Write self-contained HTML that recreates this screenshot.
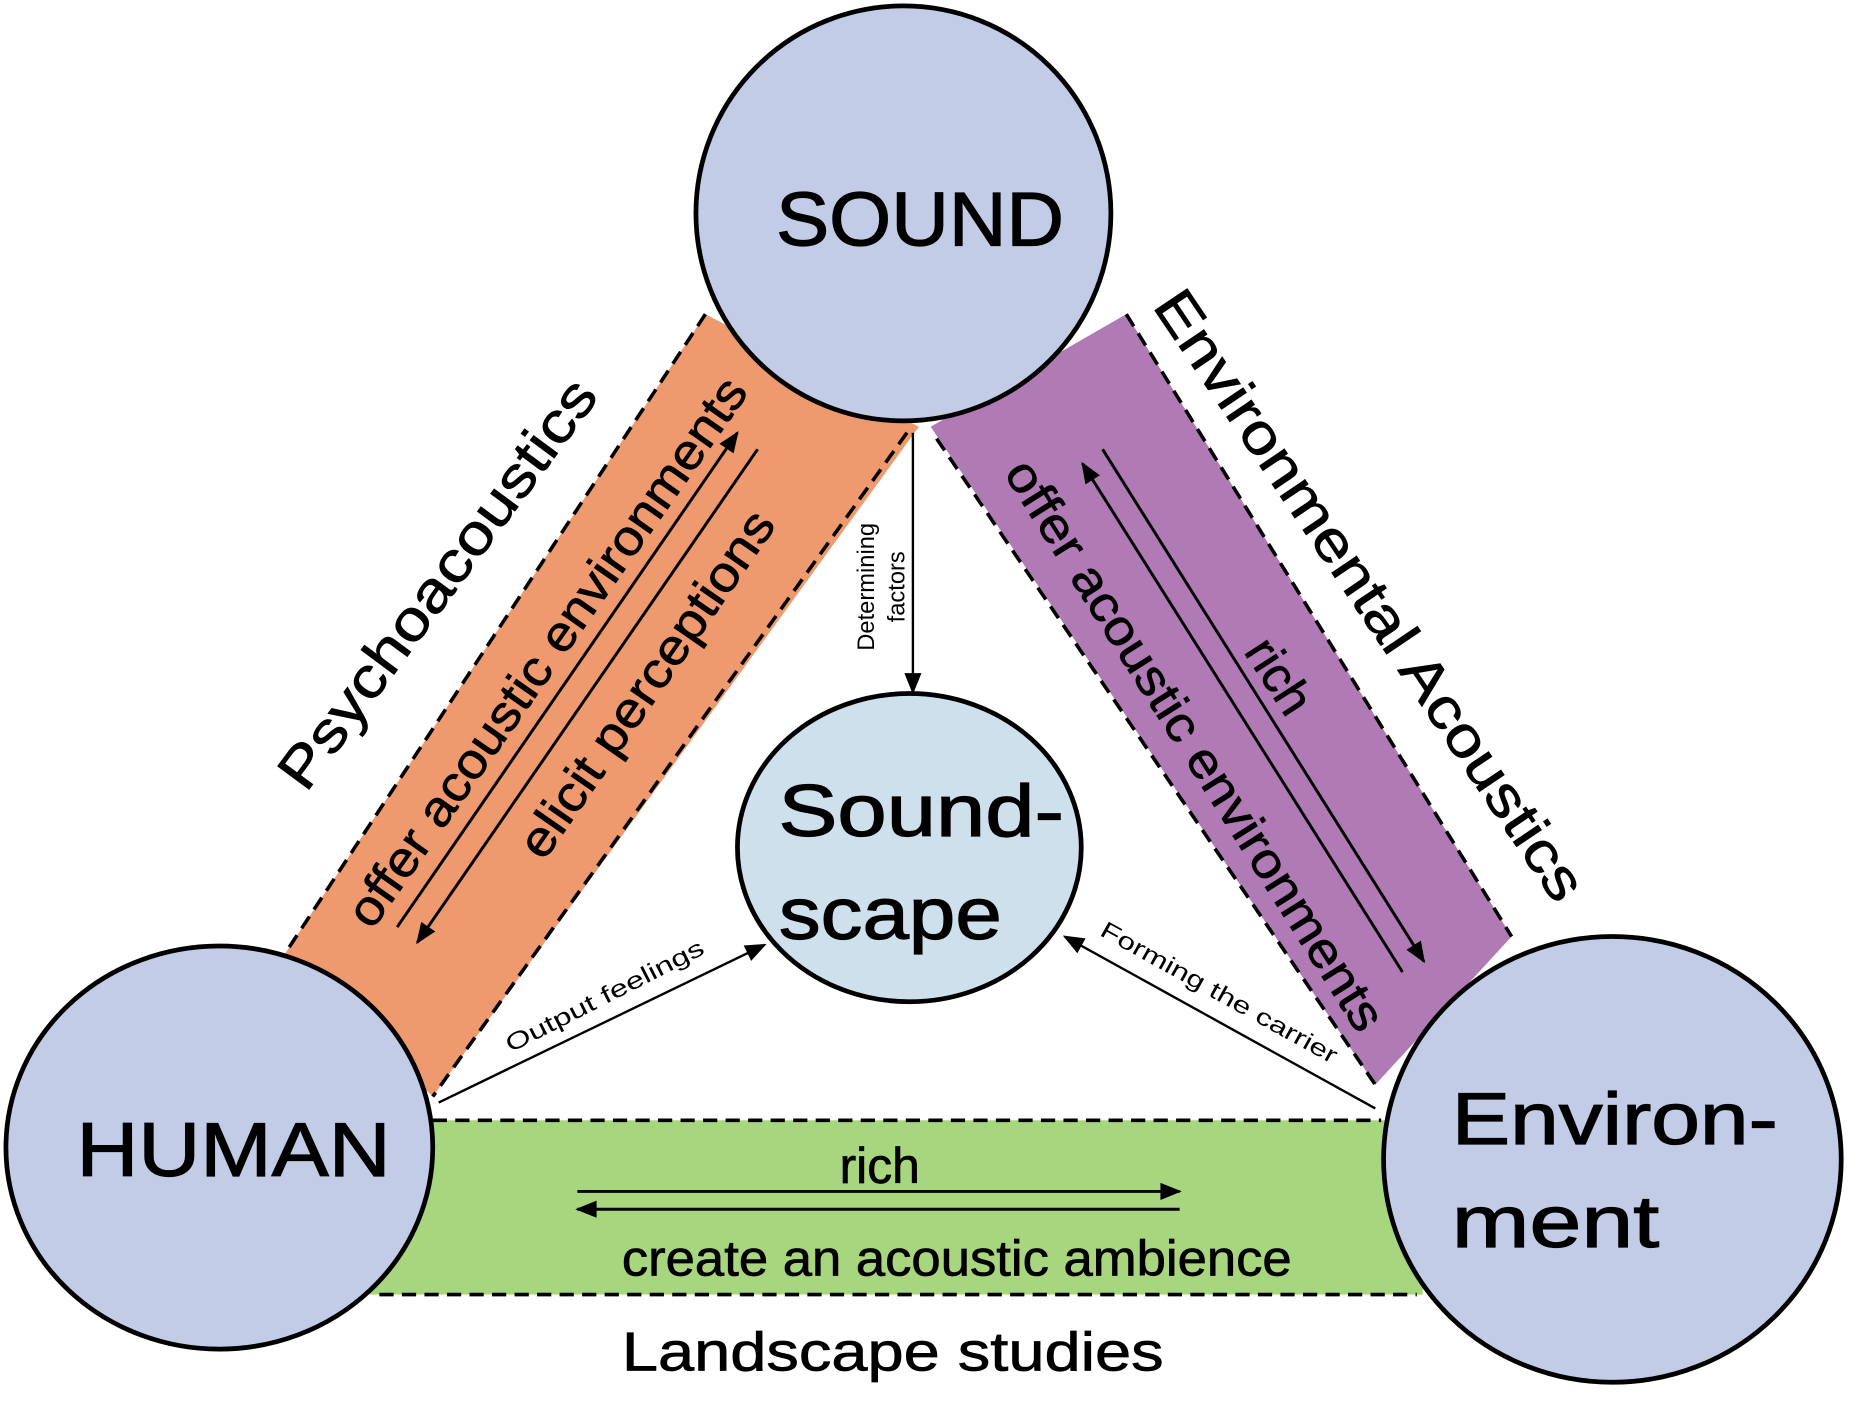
<!DOCTYPE html>
<html><head><meta charset="utf-8"><style>html,body{margin:0;padding:0;background:#fff}svg{display:block}</style></head>
<body>
<svg width="1859" height="1406" viewBox="0 0 1568 1186" preserveAspectRatio="none" xmlns="http://www.w3.org/2000/svg" font-family="Liberation Sans, sans-serif">
<defs>
<marker id="b" viewBox="0 0 10 10" refX="9" refY="5" markerWidth="20" markerHeight="18" markerUnits="userSpaceOnUse" orient="auto"><path d="M0,1L10,5L0,9z" fill="#000"/></marker>
</defs>
<!-- bands -->
<polygon points="595,265 775,360 365,925 240,805" fill="#ef9a6e"/>
<line x1="595" y1="265" x2="240" y2="805" stroke="#000" stroke-width="3" stroke-dasharray="12,7"/>
<line x1="765" y1="365" x2="365" y2="925" stroke="#000" stroke-width="3" stroke-dasharray="12,7"/>
<polygon points="785,360 950,265 1275,790 1160,915" fill="#b07ab5"/>
<line x1="950" y1="265" x2="1275" y2="790" stroke="#000" stroke-width="3" stroke-dasharray="12,7"/>
<line x1="790" y1="370" x2="1160" y2="915" stroke="#000" stroke-width="3" stroke-dasharray="12,7"/>
<rect x="300" y="945" width="900" height="147" fill="#a8d67e"/>
<line x1="365" y1="945" x2="1165" y2="945" stroke="#000" stroke-width="3" stroke-dasharray="12,7"/>
<line x1="320" y1="1092" x2="1195" y2="1092" stroke="#000" stroke-width="3" stroke-dasharray="12,7"/>
<!-- circles -->
<ellipse cx="762" cy="180" rx="175" ry="175" fill="#c2cce6" stroke="#000" stroke-width="4"/>
<ellipse cx="767" cy="715" rx="145" ry="130" fill="#cde0ec" stroke="#000" stroke-width="4"/>
<ellipse cx="185" cy="968" rx="180" ry="170" fill="#c2cce6" stroke="#000" stroke-width="4"/>
<ellipse cx="1360" cy="978" rx="193" ry="188" fill="#c2cce6" stroke="#000" stroke-width="4"/>
<!-- arrows in bands -->
<line x1="335" y1="782" x2="622" y2="365" stroke="#000" stroke-width="2.5" marker-end="url(#b)"/>
<line x1="639" y1="379" x2="352" y2="795" stroke="#000" stroke-width="2.5" marker-end="url(#b)"/>
<line x1="1183" y1="820" x2="913" y2="391" stroke="#000" stroke-width="2.5" marker-end="url(#b)"/>
<line x1="930" y1="379" x2="1201" y2="811" stroke="#000" stroke-width="2.5" marker-end="url(#b)"/>
<line x1="487" y1="1005" x2="995" y2="1005" stroke="#000" stroke-width="2.5" marker-end="url(#b)"/>
<line x1="995" y1="1020" x2="487" y2="1020" stroke="#000" stroke-width="2.5" marker-end="url(#b)"/>
<!-- center connectors -->
<line x1="770" y1="365" x2="770" y2="584" stroke="#000" stroke-width="2" marker-end="url(#b)"/>
<line x1="370" y1="930" x2="645" y2="797" stroke="#000" stroke-width="2" marker-end="url(#b)"/>
<line x1="1160" y1="935" x2="898" y2="790" stroke="#000" stroke-width="2" marker-end="url(#b)"/>
<!-- node labels -->
<g font-size="64" text-anchor="middle" fill="#000" stroke="#000" stroke-width="1">
<text x="776" y="207" textLength="243" lengthAdjust="spacingAndGlyphs">SOUND</text>
<text x="197" y="992" textLength="265" lengthAdjust="spacingAndGlyphs">HUMAN</text>
<text x="1362" y="965" font-size="62" textLength="275" lengthAdjust="spacingAndGlyphs">Environ-</text>
<text x="1312" y="1052" font-size="62" textLength="175" lengthAdjust="spacingAndGlyphs">ment</text>
<text x="777" y="705" font-size="62" textLength="241" lengthAdjust="spacingAndGlyphs">Sound-</text>
<text x="751" y="792" font-size="62" textLength="188" lengthAdjust="spacingAndGlyphs">scape</text>
</g>
<g font-size="42" text-anchor="middle" stroke="#000" stroke-width="0.6">
<text transform="translate(382,502) rotate(-53.5)" font-size="48" textLength="417" lengthAdjust="spacingAndGlyphs">Psychoacoustics</text>
<text transform="translate(473,558) rotate(-55)" textLength="555" lengthAdjust="spacingAndGlyphs">offer acoustic environments</text>
<text transform="translate(557,585) rotate(-55.3)" textLength="346" lengthAdjust="spacingAndGlyphs">elicit perceptions</text>
<text transform="translate(1142,511) rotate(56)" font-size="48" textLength="610" lengthAdjust="spacingAndGlyphs">Environmental Acoustics</text>
<text transform="translate(1067,578) rotate(57)">rich</text>
<text transform="translate(996,636) rotate(57.7)" textLength="561" lengthAdjust="spacingAndGlyphs">offer acoustic environments</text>
<text x="742" y="998">rich</text>
<text x="807" y="1076" textLength="565" lengthAdjust="spacingAndGlyphs">create an acoustic ambience</text>
<text x="753" y="1156" font-size="46" textLength="457" lengthAdjust="spacingAndGlyphs">Landscape studies</text>
</g>
<g font-size="20" text-anchor="middle">
<text transform="translate(737,495) rotate(-90)">Determining</text>
<text transform="translate(763,495) rotate(-90)">factors</text>
<text transform="translate(513,846) rotate(-27)" textLength="185" lengthAdjust="spacingAndGlyphs">Output feelings</text>
<text transform="translate(1025,843) rotate(29)" textLength="225" lengthAdjust="spacingAndGlyphs">Forming the carrier</text>
</g>
</svg>
</body></html>
